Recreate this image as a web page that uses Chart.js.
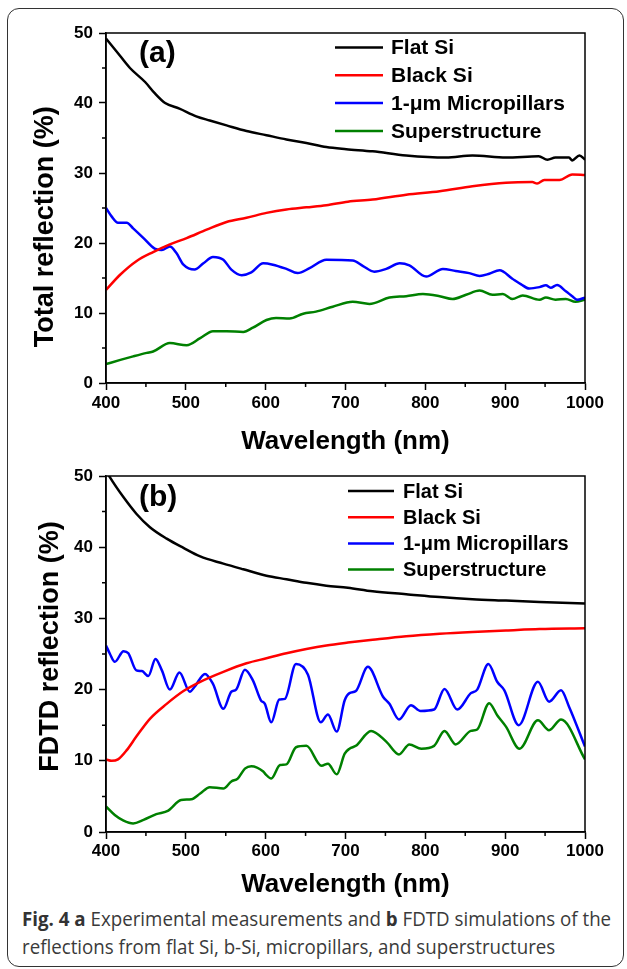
<!DOCTYPE html>
<html>
<head>
<meta charset="utf-8">
<script src="https://cdn.jsdelivr.net/npm/chart.js@4.4.0/dist/chart.umd.min.js"></script>
<style>
body{margin:0;background:#fff;width:627px;height:969px;position:relative;overflow:hidden}
#frame{position:absolute;left:7px;top:8px;width:615px;height:957px;border:1.5px solid #333;border-radius:12px}
canvas{position:absolute;left:0}
#cA{top:0}
#cB{top:460px}
#caption{position:absolute;left:22px;top:905px;font-family:'Open Sans';font-size:20px;line-height:28px;color:#3a3a3a;white-space:nowrap;transform:scaleX(0.936);transform-origin:0 0}
#caption b{color:#333}
</style>
</head>
<body>
<div id="frame"></div>
<canvas id="cA" width="627" height="460"></canvas>
<canvas id="cB" width="627" height="440"></canvas>
<div id="caption"><b>Fig. 4 a</b> Experimental measurements and <b>b</b> FDTD simulations of the<br>reflections from flat Si, b-Si, micropillars, and superstructures</div>
<script>
// series names
let nomes=['Flat Si','Black Si','1-\u03bcm Micropillars','Superstructure']
let cores=['#000000','#ff0000','#0000ff','#008000']

let xTicks=[400,500,600,700,800,900,1000]
let xMinor=[450,550,650,750,850,950]
let yTicks=[0,10,20,30,40,50]
let yMinor=[5,15,25,35,45]

// (a) experimental
let wlFlatA=[400,413,430,449,461,474,492,513,530,551,576,601,626,651,676,701,734,776,826,859,901,942,953,963,980,984,993,1000]
let flatA=[49.2,47.4,45.0,43.0,41.4,40.0,39.2,38.1,37.5,36.8,36.0,35.4,34.8,34.3,33.7,33.4,33.1,32.5,32.2,32.5,32.2,32.4,31.9,32.2,32.2,31.8,32.5,31.9]

let wlBlackA=[400,418,438,459,480,501,526,551,576,601,626,651,676,703,734,776,818,859,901,934,940,949,968,984,1000]
let blackA=[13.3,15.5,17.4,18.7,19.8,20.7,21.9,23.0,23.6,24.3,24.8,25.1,25.4,25.9,26.2,26.9,27.4,28.1,28.6,28.7,28.5,29.0,29.0,29.8,29.7]

let wlPillA=[400,407,415,426,434,447,461,470,480,488,497,511,522,534,547,557,570,582,597,609,626,640,655,676,709,722,736,751,768,780,801,822,838,855,868,880,893,909,920,930,943,951,957,965,976,984,990,1000]
let pillA=[25.0,23.8,22.9,22.9,22.1,20.7,19.2,19.0,19.5,18.6,16.9,16.2,17.1,18.0,17.6,16.2,15.4,15.8,17.1,16.9,16.3,15.7,16.4,17.6,17.5,16.7,15.9,16.3,17.1,16.8,15.2,16.3,16.0,15.7,15.3,15.6,16.1,14.9,14.1,13.5,13.7,13.95,13.6,14.0,13.1,12.4,11.9,12.2]

let wlSupA=[400,418,434,451,459,480,501,518,534,551,572,584,601,613,630,647,663,684,709,730,755,776,797,818,834,851,868,884,897,909,922,943,951,963,976,988,1000]
let supA=[2.7,3.3,3.8,4.3,4.5,5.7,5.4,6.4,7.4,7.4,7.3,7.9,9.0,9.3,9.2,9.9,10.2,10.9,11.6,11.3,12.2,12.4,12.7,12.4,12.0,12.6,13.2,12.6,12.7,12.0,12.5,11.9,12.2,11.9,12.0,11.6,11.9]

// (b) FDTD
let wlFlatB=[400,405,422,438,455,476,497,518,547,572,601,626,651,676,703,734,776,818,859,901,943,1000]
let flatB=[50.8,49.8,47.0,44.7,42.8,41.2,39.9,38.7,37.7,36.9,36.0,35.5,35.0,34.6,34.3,33.8,33.4,33.0,32.7,32.5,32.3,32.1]

let wlBlackB=[400,407,415,426,438,455,476,497,518,547,576,601,626,651,676,703,734,776,818,859,901,943,1000]
let blackB=[10.2,10.0,10.2,11.5,13.4,15.9,18.0,19.8,21.1,22.5,23.7,24.4,25.1,25.7,26.2,26.6,27.0,27.5,27.85,28.1,28.3,28.5,28.6]

let wlPillB=[400,405,411,422,428,438,445,453,462,470,480,492,505,511,524,534,547,557,563,574,584,594,599,607,617,624,638,653,669,678,689,699,705,713,728,747,755,767,782,794,811,824,840,857,865,879,890,899,917,941,955,970,980,1000]
let pillB=[26.2,25.0,23.9,25.4,25.1,22.7,22.6,21.9,24.3,22.7,20.0,22.4,19.7,20.4,22.2,20.8,17.3,19.7,20.0,22.8,21.3,18.5,18.0,15.4,18.6,18.7,23.6,22.1,15.4,16.5,14.1,18.5,19.5,19.8,23.2,19.0,18.0,15.8,17.8,17.0,17.2,20.1,17.2,19.5,20.0,23.6,21.1,19.9,15.0,21.1,18.3,19.9,17.6,12.0]

let wlSupB=[400,411,422,434,447,463,478,494,507,518,530,547,557,565,574,582,597,600,607,618,626,638,651,670,678,689,699,705,713,732,751,767,780,795,811,824,838,857,865,880,890,901,918,941,955,970,1000]
let supB=[3.6,2.4,1.6,1.2,1.7,2.5,3.0,4.5,4.6,5.4,6.3,6.1,7.1,7.5,8.9,9.25,8.5,8.1,7.5,9.4,9.5,11.9,12.1,9.3,9.6,8.1,11.0,11.7,12.1,14.2,12.7,10.9,12.3,11.7,12.1,14.2,12.3,14.2,14.4,18.1,16.4,14.8,11.7,15.7,14.3,15.8,10.2]

const FONTE="'Liberation Sans', Arial, sans-serif"

function pontos(xs,ys){
return xs.map((x,i)=>({x:x,y:ys[i]}))
}

function montarDatasets(series){
return series.map((s,i)=>({
label:nomes[i],
data:pontos(s[0],s[1]),
borderColor:cores[i],
borderWidth:2.5,
pointRadius:0,
fill:false,
cubicInterpolationMode:'monotone'
}))
}

// box around plot area + short minor ticks
const moldura={
id:'moldura',
afterDraw(chart){
let{ctx,chartArea:a,scales}=chart
ctx.save()
ctx.strokeStyle='#000'
ctx.lineWidth=1.5
ctx.strokeRect(a.left,a.top,a.right-a.left,a.bottom-a.top)
ctx.beginPath()
xMinor.forEach(v=>{
let px=scales.x.getPixelForValue(v)
ctx.moveTo(px,a.bottom)
ctx.lineTo(px,a.bottom+4)
})
yMinor.forEach(v=>{
let py=scales.y.getPixelForValue(v)
ctx.moveTo(a.left,py)
ctx.lineTo(a.left-4,py)
})
ctx.stroke()
ctx.restore()
}
}

// legend inside plot + panel letter
const legendaInterna={
id:'legendaInterna',
afterDatasetsDraw(chart,args,op){
let{ctx,chartArea:a}=chart
ctx.save()
ctx.textBaseline='middle'
ctx.textAlign='left'
ctx.font='bold 30px '+FONTE
ctx.fillStyle='#000'
ctx.fillText(op.painel,a.left+33,a.top+op.painelY)
ctx.font=op.fonte
chart.data.datasets.forEach((d,i)=>{
let y=a.top+op.y0+i*op.dy
ctx.strokeStyle=d.borderColor
ctx.lineWidth=2.5
ctx.beginPath()
ctx.moveTo(a.left+op.x0,y)
ctx.lineTo(a.left+op.x1,y)
ctx.stroke()
ctx.fillStyle='#000'
ctx.fillText(d.label,a.left+op.tx,y+1)
})
ctx.restore()
}
}

function criarGrafico(id,series,tituloY,cfg){
return new Chart(document.getElementById(id),{
type:'line',
data:{datasets:montarDatasets(series)},
options:{
responsive:false,
animation:false,
devicePixelRatio:1,
layout:{padding:{top:cfg.topo,right:42,left:0,bottom:0}},
plugins:{
legend:{display:false},
tooltip:{enabled:false},
legendaInterna:cfg.legenda
},
scales:{
x:{
type:'linear',
min:400,
max:1000,
afterFit(s){s.height=cfg.alturaX;s.paddingLeft=0;s.paddingRight=0},
afterBuildTicks(s){s.ticks=xTicks.map(v=>({value:v}))},
ticks:{
autoSkip:false,
maxRotation:0,
padding:cfg.padX,
color:'#000',
font:{family:FONTE,size:17,weight:'bold'},
callback:v=>String(v)
},
grid:{drawOnChartArea:false,tickLength:7,tickWidth:1.5,tickColor:'#000'},
border:{display:true,color:'#000',width:1.5},
title:{
display:true,
text:'Wavelength (nm)',
color:'#000',
font:{family:FONTE,size:26,weight:'bold'},
padding:{top:0,bottom:cfg.padTituloX}
}
},
y:{
min:0,
max:50,
afterFit(s){s.width=106;s.paddingTop=0;s.paddingBottom=0},
afterBuildTicks(s){s.ticks=yTicks.map(v=>({value:v}))},
ticks:{
autoSkip:false,
padding:6,
color:'#000',
font:{family:FONTE,size:17,weight:'bold'},
callback:v=>String(v)
},
grid:{drawOnChartArea:false,tickLength:7,tickWidth:1.5,tickColor:'#000'},
border:{display:true,color:'#000',width:1.5},
title:{
display:true,
text:tituloY,
color:'#000',
font:{family:FONTE,size:27,weight:'bold'},
padding:{top:cfg.padTituloY,bottom:0}
}
}
}
},
plugins:[moldura,legendaInterna]
})
}

criarGrafico('cA',[[wlFlatA,flatA],[wlBlackA,blackA],[wlPillA,pillA],[wlSupA,supA]],'Total reflection (%)\u00a0\u00a0\u00a0\u00a0\u00a0',{
topo:33,
alturaX:77,
padX:3,
padTituloX:3,
padTituloY:29,
legenda:{painel:'(a)',painelY:21,x0:229,x1:277,tx:285,y0:14.5,dy:27.8,fonte:'bold 21px '+FONTE}
})

criarGrafico('cB',[[wlFlatB,flatB],[wlBlackB,blackB],[wlPillB,pillB],[wlSupB,supB]],'\u00a0\u00a0FDTD reflection (%)',{
topo:16,
alturaX:68,
padX:2,
padTituloX:0,
padTituloY:34,
legenda:{painel:'(b)',painelY:21.5,x0:242,x1:288,tx:297,y0:15,dy:26.2,fonte:'bold 20px '+FONTE}
})
</script>
</body>
</html>
